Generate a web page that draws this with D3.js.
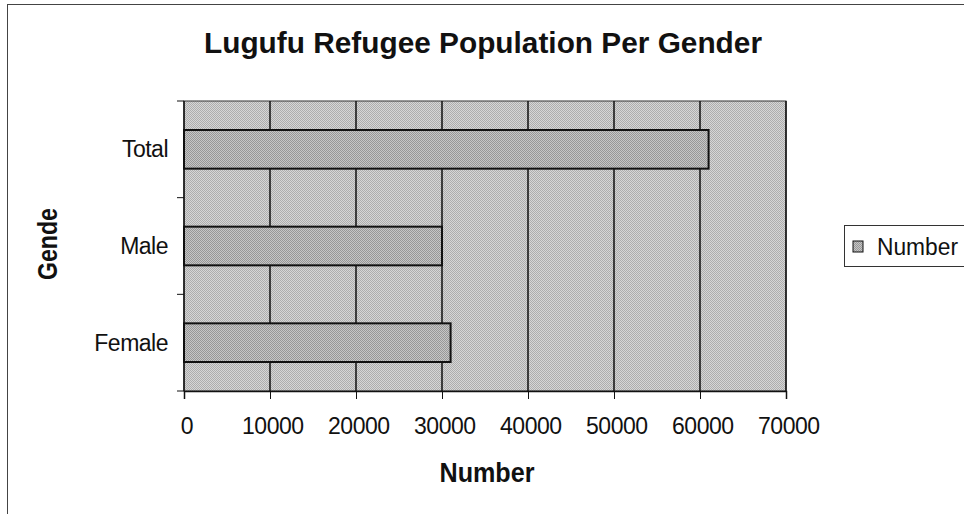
<!DOCTYPE html>
<html>
<head>
<meta charset="utf-8">
<script src="https://cdn.jsdelivr.net/npm/d3@7"></script>
<style>
  body { margin: 0; background: #fff; }
  text { font-family: "Liberation Sans", Arial, sans-serif; fill: #111; }
</style>
</head>
<body>
<div id="chart"></div>
<script>
// data
var categories = ["Total", "Male", "Female"];
var values = [61000, 30000, 31000];
var xTicks = [0, 10000, 20000, 30000, 40000, 50000, 60000, 70000];
var seriesName = "Number";

var W = 964, H = 514;
var plot = {left: 184, right: 786, top: 101, bottom: 391};

var svg = d3.select("#chart").append("svg")
    .attr("width", W)
    .attr("height", H);

// dithered grey fills, like the scan
var defs = svg.append("defs");
function dither(id, light, dark) {
    var p = defs.append("pattern")
        .attr("id", id)
        .attr("patternUnits", "userSpaceOnUse")
        .attr("width", 2).attr("height", 2);
    p.append("rect").attr("width", 2).attr("height", 2).attr("fill", light);
    p.append("rect").attr("width", 1).attr("height", 1).attr("fill", dark);
    p.append("rect").attr("x", 1).attr("y", 1).attr("width", 1).attr("height", 1).attr("fill", dark);
}
dither("bg", "#d6d6d6", "#adadad");
dither("bar", "#c6c6c6", "#979797");

// outer chart border
svg.append("rect")
    .attr("x", 7.5).attr("y", 4.5)
    .attr("width", 1000).attr("height", 600)
    .attr("fill", "none")
    .attr("stroke", "#444")
    .attr("stroke-width", 1);

var x = d3.scaleLinear()
    .domain([0, 70000])
    .range([plot.left, plot.right]);

var y = d3.scaleBand()
    .domain(categories)
    .range([plot.top, plot.bottom])
    .paddingInner(0.6)
    .paddingOuter(0.3);

// plot background
svg.append("rect")
    .attr("x", plot.left).attr("y", plot.top)
    .attr("width", plot.right - plot.left)
    .attr("height", plot.bottom - plot.top)
    .attr("fill", "url(#bg)")
    .attr("stroke", "#333")
    .attr("stroke-width", 1);

// vertical gridlines
svg.append("g")
    .selectAll("line")
    .data(xTicks.slice(1))
    .enter().append("line")
    .attr("x1", function(d){ return x(d); })
    .attr("x2", function(d){ return x(d); })
    .attr("y1", plot.top)
    .attr("y2", plot.bottom)
    .attr("stroke", "#111")
    .attr("stroke-width", 1.5);

// bars
svg.append("g")
    .selectAll("rect")
    .data(categories)
    .enter().append("rect")
    .attr("x", x(0))
    .attr("y", function(d){ return y(d); })
    .attr("width", function(d, i){ return x(values[i]) - x(0); })
    .attr("height", y.bandwidth())
    .attr("fill", "url(#bar)")
    .attr("stroke", "#111")
    .attr("stroke-width", 2);

// X axis
var xAxis = d3.axisBottom(x)
    .tickValues(xTicks)
    .tickSize(8)
    .tickFormat(d3.format("d"));

var gx = svg.append("g")
    .attr("transform", "translate(0," + plot.bottom + ")")
    .call(xAxis);
gx.select(".domain").attr("stroke", "#111").attr("stroke-width", 1.5);
gx.selectAll(".tick line").attr("stroke", "#111");
gx.selectAll("text")
    .attr("y", 27)
    .attr("dx", "0.1em")
    .style("font-size", "23px")
    .style("letter-spacing", "-0.5px")
    .style("font-family", "'Liberation Sans', Arial, sans-serif")
    .attr("fill", "#111");

// Y axis: labels centred in band, ticks at band edges
var gy = svg.append("g");
gy.append("line")
    .attr("x1", plot.left).attr("x2", plot.left)
    .attr("y1", plot.top).attr("y2", plot.bottom)
    .attr("stroke", "#111").attr("stroke-width", 1.5);
gy.selectAll("line.tk")
    .data(d3.range(categories.length + 1))
    .enter().append("line")
    .attr("class", "tk")
    .attr("x1", plot.left - 7).attr("x2", plot.left)
    .attr("y1", function(i){ return plot.top + i * y.step(); })
    .attr("y2", function(i){ return plot.top + i * y.step(); })
    .attr("stroke", "#111");
gy.selectAll("text")
    .data(categories)
    .enter().append("text")
    .attr("x", plot.left - 16)
    .attr("y", function(d){ return y(d) + y.bandwidth() / 2; })
    .attr("dy", "0.35em")
    .attr("text-anchor", "end")
    .style("font-size", "23px")
    .style("letter-spacing", "-0.5px")
    .text(function(d){ return d; });

// titles
svg.append("text")
    .attr("x", 483)
    .attr("y", 53)
    .attr("text-anchor", "middle")
    .attr("textLength", 558)
    .attr("lengthAdjust", "spacingAndGlyphs")
    .style("font-size", "29px")
    .style("font-weight", "bold")
    .text("Lugufu Refugee Population Per Gender");

svg.append("text")
    .attr("x", 487)
    .attr("y", 482)
    .attr("text-anchor", "middle")
    .attr("textLength", 95)
    .attr("lengthAdjust", "spacingAndGlyphs")
    .style("font-size", "27px")
    .style("font-weight", "bold")
    .text("Number");

svg.append("text")
    .attr("transform", "translate(57,244) rotate(-90)")
    .attr("text-anchor", "middle")
    .attr("textLength", 72)
    .attr("lengthAdjust", "spacingAndGlyphs")
    .style("font-size", "27px")
    .style("font-weight", "bold")
    .text("Gende");

// legend
var lg = svg.append("g");
lg.append("rect")
    .attr("x", 844.5).attr("y", 225.5)
    .attr("width", 200).attr("height", 41)
    .attr("fill", "#fff")
    .attr("stroke", "#333");
lg.append("rect")
    .attr("x", 853).attr("y", 241)
    .attr("width", 10).attr("height", 11)
    .attr("fill", "url(#bar)")
    .attr("stroke", "#111");
lg.append("text")
    .attr("x", 877)
    .attr("y", 247)
    .attr("dy", "0.35em")
    .attr("textLength", 81)
    .attr("lengthAdjust", "spacingAndGlyphs")
    .style("font-size", "23px")
    .text(seriesName);
</script>
</body>
</html>
